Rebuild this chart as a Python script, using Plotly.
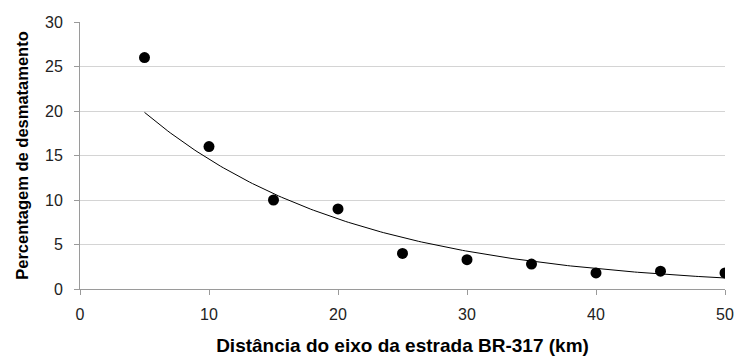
import numpy as np
import plotly.graph_objects as go

distancia = [5, 10, 15, 20, 25, 30, 35, 40, 45, 50]
desmatamento = [26, 16, 10, 9, 4, 3.3, 2.8, 1.8, 2.0, 1.8]
x_ticks = [0, 10, 20, 30, 40, 50]
y_ticks = [0, 5, 10, 15, 20, 25, 30]

# Exponential trendline (least squares on ln y)
b, ln_a = np.polyfit(distancia, np.log(desmatamento), 1)
xf = np.linspace(min(distancia), max(distancia), 200)
yf = np.exp(ln_a) * np.exp(b * xf)

fig = go.Figure()
fig.add_trace(go.Scatter(x=xf, y=yf, mode="lines",
                         line=dict(color="black", width=1), hoverinfo="skip"))
fig.add_trace(go.Scatter(x=distancia, y=desmatamento, mode="markers",
                         marker=dict(color="black", size=11)))

font_family = "Liberation Sans, Arial, sans-serif"
fig.update_layout(
    width=735, height=358,
    margin=dict(l=80, r=10, t=22, b=69),
    paper_bgcolor="white", plot_bgcolor="white",
    showlegend=False,
    font=dict(family=font_family, size=16, color="#222222"),
    xaxis=dict(range=[0, 50], tickvals=x_ticks, showgrid=False,
               showline=True, linecolor="#9a9a9a", linewidth=1,
               ticks="outside", ticklen=5, tickcolor="#9a9a9a",
               ticklabelstandoff=6,
               zeroline=False, automargin=False,
               title=dict(text="<b>Distância do eixo da estrada BR-317 (km)</b>",
                          font=dict(size=19, color="black"), standoff=16)),
    yaxis=dict(range=[0, 30], tickvals=y_ticks, showgrid=True,
               gridcolor="#d4d4d4", gridwidth=1,
               showline=True, linecolor="#9a9a9a", linewidth=1,
               ticks="outside", ticklen=5, tickcolor="#9a9a9a",
               ticklabelstandoff=8,
               zeroline=False, automargin=False,
               title=dict(text="<b>Percentagem de desmatamento</b>",
                          font=dict(size=16.5, color="black"), standoff=12)),
)
fig.write_html("out.html")
